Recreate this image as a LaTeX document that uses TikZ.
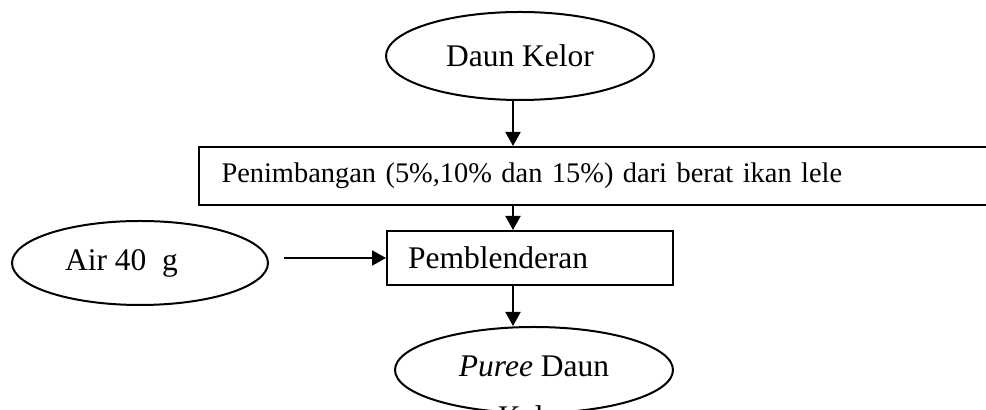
\documentclass[tikz,border=0pt]{standalone}
\usepackage{fontspec}
\setmainfont{Liberation Serif}
\usetikzlibrary{shapes.geometric,arrows.meta}
\begin{document}
\begin{tikzpicture}[x=0.5pt,y=-0.5pt,
  lw/.style={line width=1pt},
  txt/.style={font=\fontsize{15.75}{19}\selectfont},
  smalltxt/.style={font=\fontsize{14.2}{17}\selectfont},
  oval/.style={ellipse,draw,lw,inner sep=0pt,txt},
  boxstyle/.style={rectangle,draw,lw,inner ysep=0pt,align=left,txt},
  arr/.style={lw,-{Triangle[length=7pt,width=7.5pt]}}]
\useasboundingbox (0,0) rectangle (986,410);
\clip (0,0) rectangle (986,410);
\fill[white] (0,0) rectangle (986,410);
\coordinate (ax) at (513,0);
% nodes
\node[oval,minimum width=134pt,minimum height=44pt] (kelor) at (520,56) {Daun Kelor};
\node[boxstyle,smalltxt,anchor=west,minimum width=398.5pt,text width=376pt,inner xsep=11pt,minimum height=29pt] (weigh) at (198,176) {Penimbangan (5\%,10\% dan 15\%) dari berat ikan lele};
\node[boxstyle,minimum width=143pt,text width=122pt,inner xsep=10.5pt,minimum height=27pt] (blend) at (530,258) {Pemblenderan};
\node[oval,minimum width=128pt,minimum height=42pt] (air) at (140,263) {};
\node[txt] (airtxt) at (121.5,263) {Air 40~~g};
\node[oval,minimum width=139pt,minimum height=43pt] (puree) at (534,370) {};
\node[txt,anchor=base] (puree1) at (534,377) {\textit{Puree} Daun};
\node[txt,anchor=base] (puree2) at (534,428) {Kelor};
% connectors
\draw[arr] (kelor.south -| ax) -- (weigh.north -| ax);
\draw[arr] (weigh.south -| ax) -- (blend.north -| ax);
\draw[arr] (blend.south -| ax) -- (puree.north -| ax);
\draw[arr,shorten <=7.5pt] (air.east |- blend.west) -- (blend.west);
\end{tikzpicture}
\end{document}
